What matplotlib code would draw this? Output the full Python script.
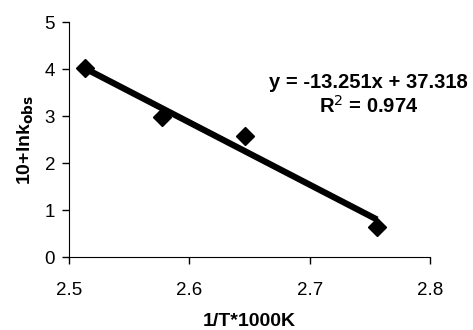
import numpy as np
import matplotlib.pyplot as plt

plt.rcParams['font.family'] = ['Liberation Sans', 'DejaVu Sans']

# data
inv_t = [2.513, 2.577, 2.646, 2.756]
ln_k = [4.02, 2.98, 2.57, 0.64]
slope = -13.251
intercept = 37.318
r2 = 0.974
x_ticks = [2.5, 2.6, 2.7, 2.8]
y_ticks = [0, 1, 2, 3, 4, 5]

fig = plt.figure(figsize=(4.73, 3.30), dpi=100)
ax = fig.add_axes([0.146, 0.221, 0.763, 0.712])

# trend line
xs = np.array([min(inv_t), max(inv_t)])
ax.plot(xs, slope * xs + intercept, color='black', linewidth=4.5, solid_capstyle='butt')
ax.plot(inv_t, ln_k, linestyle='none', marker='D', markersize=9, color='black')

ax.set_xlim(2.5, 2.8)
ax.set_ylim(0, 5)
ax.set_xticks(x_ticks)
ax.set_yticks(y_ticks)
ax.set_xticklabels([f'{v:.1f}' for v in x_ticks], fontsize=13.5)
ax.set_yticklabels([str(v) for v in y_ticks], fontsize=13.5)
ax.tick_params(direction='out', length=5, width=1, pad=13)
ax.tick_params(axis='y', pad=5)
for s in ['top', 'right']:
    ax.spines[s].set_visible(False)

ax.set_xlabel('1/T*1000K', fontsize=14, fontweight='bold', labelpad=10)
ax.set_ylabel(r'10+lnk$_{\mathbf{obs}}$', fontsize=14, fontweight='bold', labelpad=6)

ax.text(0.83, 0.69, f'y = {slope}x + {intercept}\nR$^2$ = {r2}',
        transform=ax.transAxes, ha='center', va='center', fontsize=14.5,
        fontweight='bold', linespacing=1.2)

fig.savefig('out.png', dpi=100, facecolor='white')
